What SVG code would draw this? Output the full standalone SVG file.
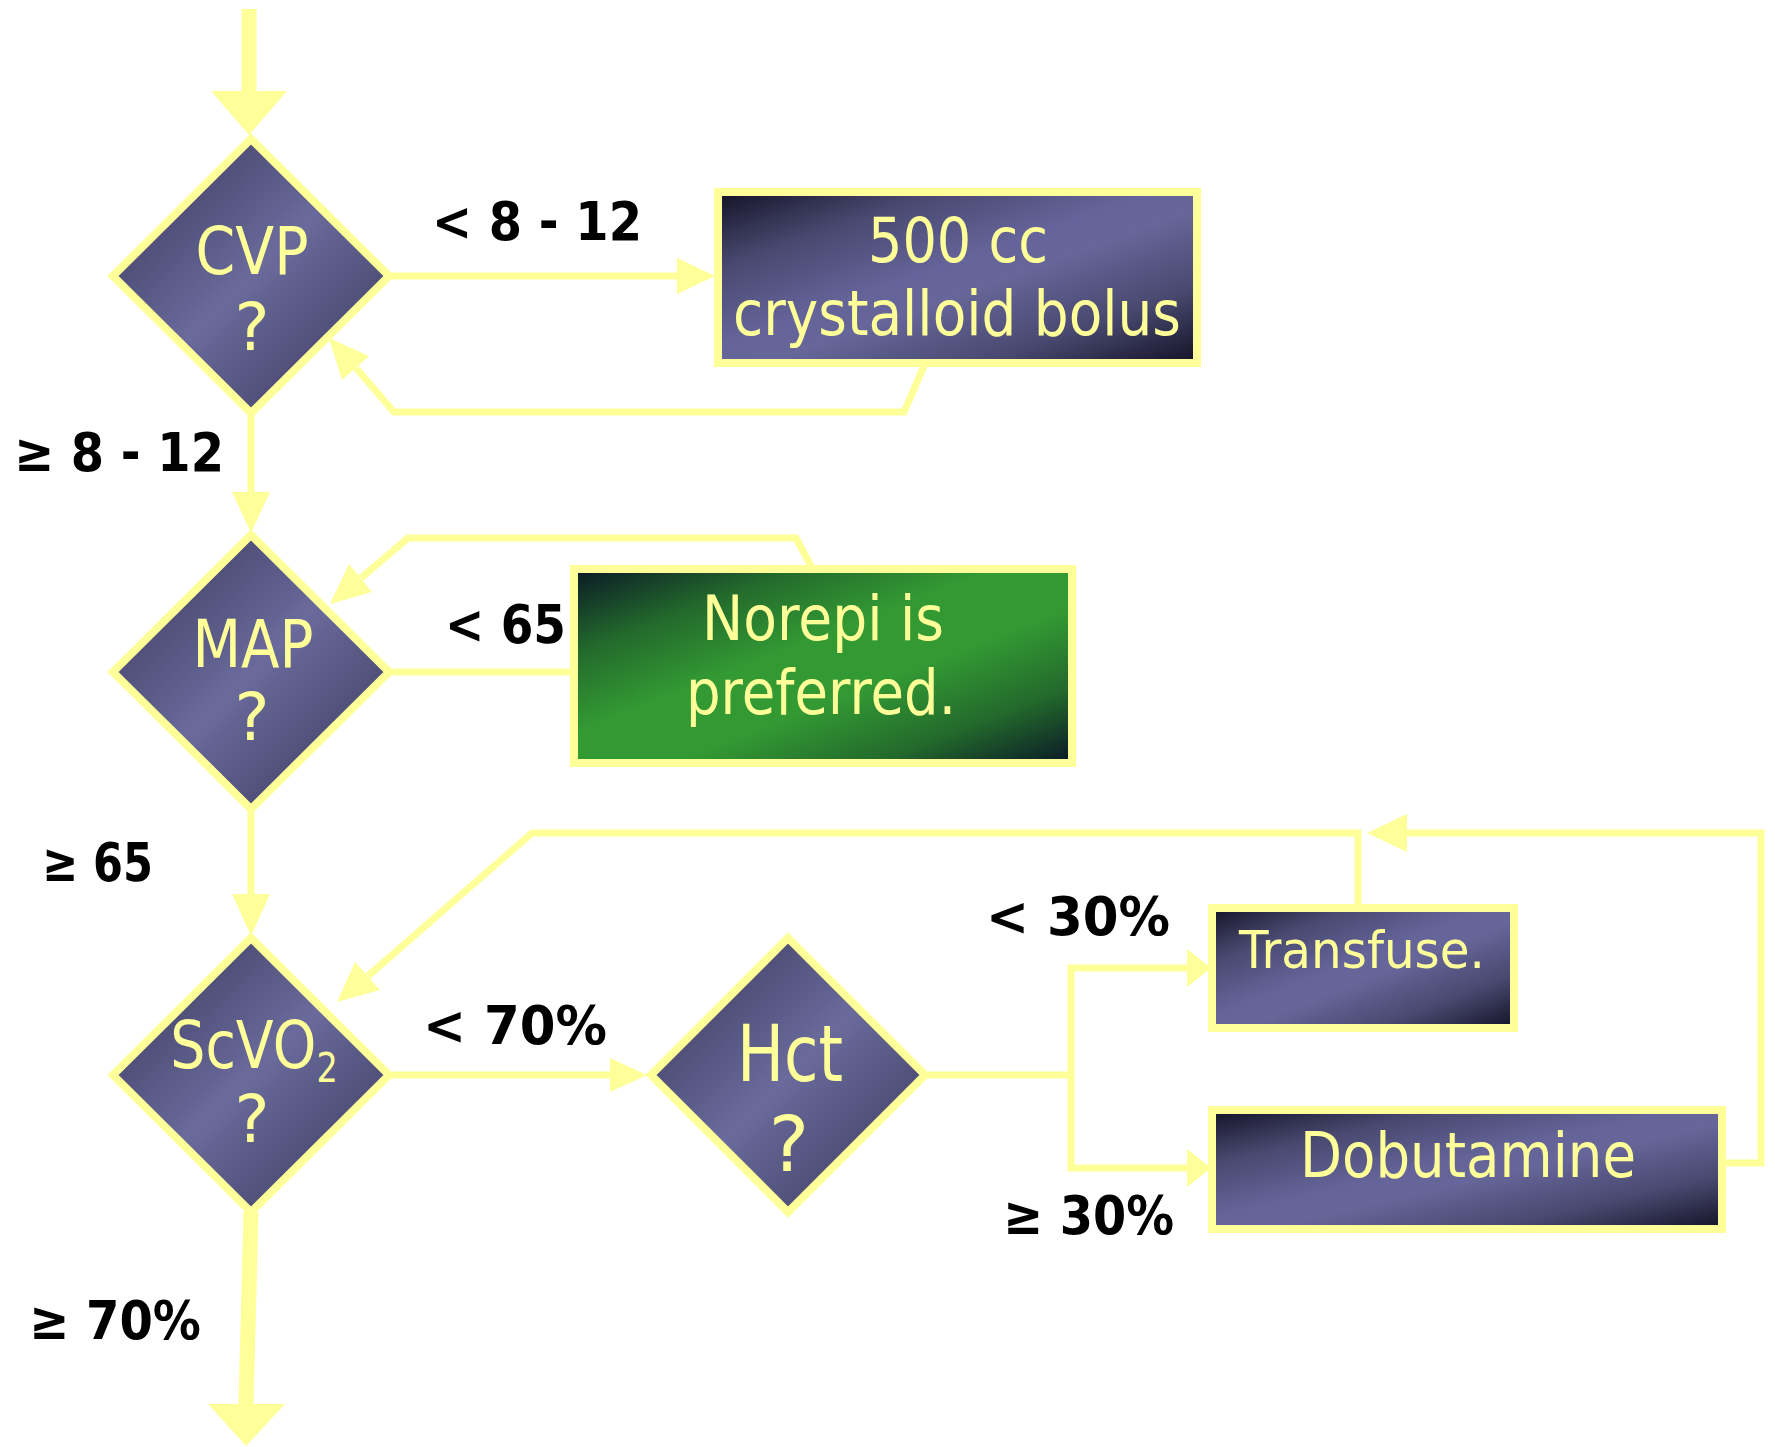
<svg xmlns="http://www.w3.org/2000/svg" width="1775" height="1447" viewBox="0 0 1775 1447">
<defs>
<linearGradient id="gDia" x1="0" y1="0" x2="1" y2="1">
<stop offset="0.2" stop-color="#4a4a72"/><stop offset="0.5" stop-color="#6a6a9c"/><stop offset="0.8" stop-color="#4a4a72"/>
</linearGradient>
<linearGradient id="gBox" x1="0" y1="0" x2="1" y2="1">
<stop offset="0" stop-color="#121226"/><stop offset="0.22" stop-color="#48486f"/><stop offset="0.45" stop-color="#64649a"/><stop offset="0.55" stop-color="#66669a"/><stop offset="0.78" stop-color="#48486f"/><stop offset="1" stop-color="#121226"/>
</linearGradient>
<linearGradient id="gGreen" x1="0" y1="0" x2="1" y2="1">
<stop offset="0" stop-color="#0a1826"/><stop offset="0.22" stop-color="#236a2c"/><stop offset="0.42" stop-color="#339933"/><stop offset="0.6" stop-color="#339933"/><stop offset="0.8" stop-color="#236a2c"/><stop offset="1" stop-color="#0a1826"/>
</linearGradient>
</defs>
<style>
.ln{fill:none;stroke:#ffff99;stroke-width:7;stroke-linejoin:miter}
.thick{fill:none;stroke:#ffff99;stroke-width:15}
.ah{fill:#ffff99;stroke:none}
.dia{fill:url(#gDia);stroke:#ffff99;stroke-width:8}
.box{fill:url(#gBox);stroke:#ffff99;stroke-width:8}
.grn{fill:url(#gGreen);stroke:#ffff99;stroke-width:8}
.nt{font-family:"DejaVu Sans","Liberation Sans",sans-serif;fill:#ffff99;text-anchor:middle}
.lb{font-family:"DejaVu Sans","Liberation Sans",sans-serif;font-weight:bold;font-size:54px;fill:#000}
</style>
<rect width="1775" height="1447" fill="#ffffff"/>
<g id="connectors">
<path class="thick" d="M249,9 V92"/>
<polygon class="ah" points="211,91 287,91 249,135"/>
<path class="ln" d="M389,276 H678"/>
<polygon class="ah" points="677,258 715,276 677,294"/>
<path class="ln" d="M924,366 L904,412 H394 L356,368"/>
<polygon class="ah" points="369,356 342,380 329,338"/>
<path class="ln" d="M251,413 V493"/>
<polygon class="ah" points="232,492 270,492 251,533"/>
<path class="ln" d="M389,672 H576"/>
<path class="ln" d="M811,566 L796,538 H408 L361,578"/>
<polygon class="ah" points="349,564 372,592 330,604"/>
<path class="ln" d="M251,809 V895"/>
<polygon class="ah" points="232,894 270,894 251,936"/>
<path class="ln" d="M1358,904 V833 H532 L368,976"/>
<polygon class="ah" points="355,962 380,990 337,1002"/>
<path class="ln" d="M389,1075 H612"/>
<polygon class="ah" points="610,1058 647,1075 610,1092"/>
<path class="ln" d="M925,1075 H1071 M1071,968 V1168 M1067.5,968 H1190 M1067.5,1168 H1190"/>
<polygon class="ah" points="1187,949 1211,968 1187,987"/>
<polygon class="ah" points="1187,1149 1211,1168 1187,1187"/>
<path class="ln" d="M1726,1163 H1761 V833 H1406"/>
<polygon class="ah" points="1407,814 1407,852 1367,833"/>
<path class="thick" d="M251,1212 L246,1405"/>
<polygon class="ah" points="208,1404 285,1404 246,1446"/>
</g>
<g id="n-cvp">
<polygon class="dia" points="251,139 389,276 251,413 113,276"/>
<text class="nt" x="252" y="274" font-size="66" textLength="113" lengthAdjust="spacingAndGlyphs">CVP</text>
<text class="nt" x="252" y="350" font-size="66">?</text>
</g>
<g id="n-bolus">
<rect class="box" x="718" y="192" width="479" height="171"/>
<text class="nt" x="958" y="262" font-size="62" textLength="180" lengthAdjust="spacingAndGlyphs">500 cc</text>
<text class="nt" x="957" y="335" font-size="62" textLength="448" lengthAdjust="spacingAndGlyphs">crystalloid bolus</text>
</g>
<g id="n-map">
<polygon class="dia" points="251,535 389,672 251,809 113,672"/>
<text class="nt" x="253" y="667" font-size="66" textLength="121" lengthAdjust="spacingAndGlyphs">MAP</text>
<text class="nt" x="252" y="740" font-size="66">?</text>
</g>
<g id="n-norepi">
<rect class="grn" x="574" y="569" width="498" height="194"/>
<text class="nt" x="823" y="640" font-size="62" textLength="242" lengthAdjust="spacingAndGlyphs">Norepi is</text>
<text class="nt" x="821" y="714" font-size="62" textLength="270" lengthAdjust="spacingAndGlyphs">preferred.</text>
</g>
<g id="n-scvo2">
<polygon class="dia" points="251,938 389,1075 251,1212 113,1075"/>
<text class="nt" font-size="66" transform="translate(254 1068) scale(0.84 1)" x="0" y="0">ScVO<tspan font-size="40" dy="14">2</tspan></text>
<text class="nt" x="252" y="1142" font-size="66">?</text>
</g>
<g id="n-hct">
<polygon class="dia" points="788,938 925,1075 788,1212 651,1075"/>
<text class="nt" x="790" y="1081" font-size="78" textLength="106" lengthAdjust="spacingAndGlyphs">Hct</text>
<text class="nt" x="789" y="1171" font-size="76">?</text>
</g>
<g id="n-transfuse">
<rect class="box" x="1212" y="908" width="302" height="120"/>
<text class="nt" x="1362" y="968" font-size="52" textLength="246" lengthAdjust="spacingAndGlyphs">Transfuse.</text>
</g>
<g id="n-dobutamine">
<rect class="box" x="1212" y="1110" width="510" height="119"/>
<text class="nt" x="1468" y="1177" font-size="63" textLength="336" lengthAdjust="spacingAndGlyphs">Dobutamine</text>
</g>
<g id="labels">
<text class="lb" x="432" y="240" textLength="210" lengthAdjust="spacingAndGlyphs">&lt; 8 - 12</text>
<text class="lb" x="14" y="471" textLength="210" lengthAdjust="spacingAndGlyphs">≥ 8 - 12</text>
<text class="lb" x="445" y="643" textLength="121" lengthAdjust="spacingAndGlyphs">&lt; 65</text>
<text class="lb" x="42" y="881" textLength="111" lengthAdjust="spacingAndGlyphs">≥ 65</text>
<text class="lb" x="423" y="1044" textLength="184" lengthAdjust="spacingAndGlyphs">&lt; 70%</text>
<text class="lb" x="29" y="1339" textLength="172" lengthAdjust="spacingAndGlyphs">≥ 70%</text>
<text class="lb" x="986" y="935" textLength="184" lengthAdjust="spacingAndGlyphs">&lt; 30%</text>
<text class="lb" x="1003" y="1234" textLength="171" lengthAdjust="spacingAndGlyphs">≥ 30%</text>
</g>
</svg>
